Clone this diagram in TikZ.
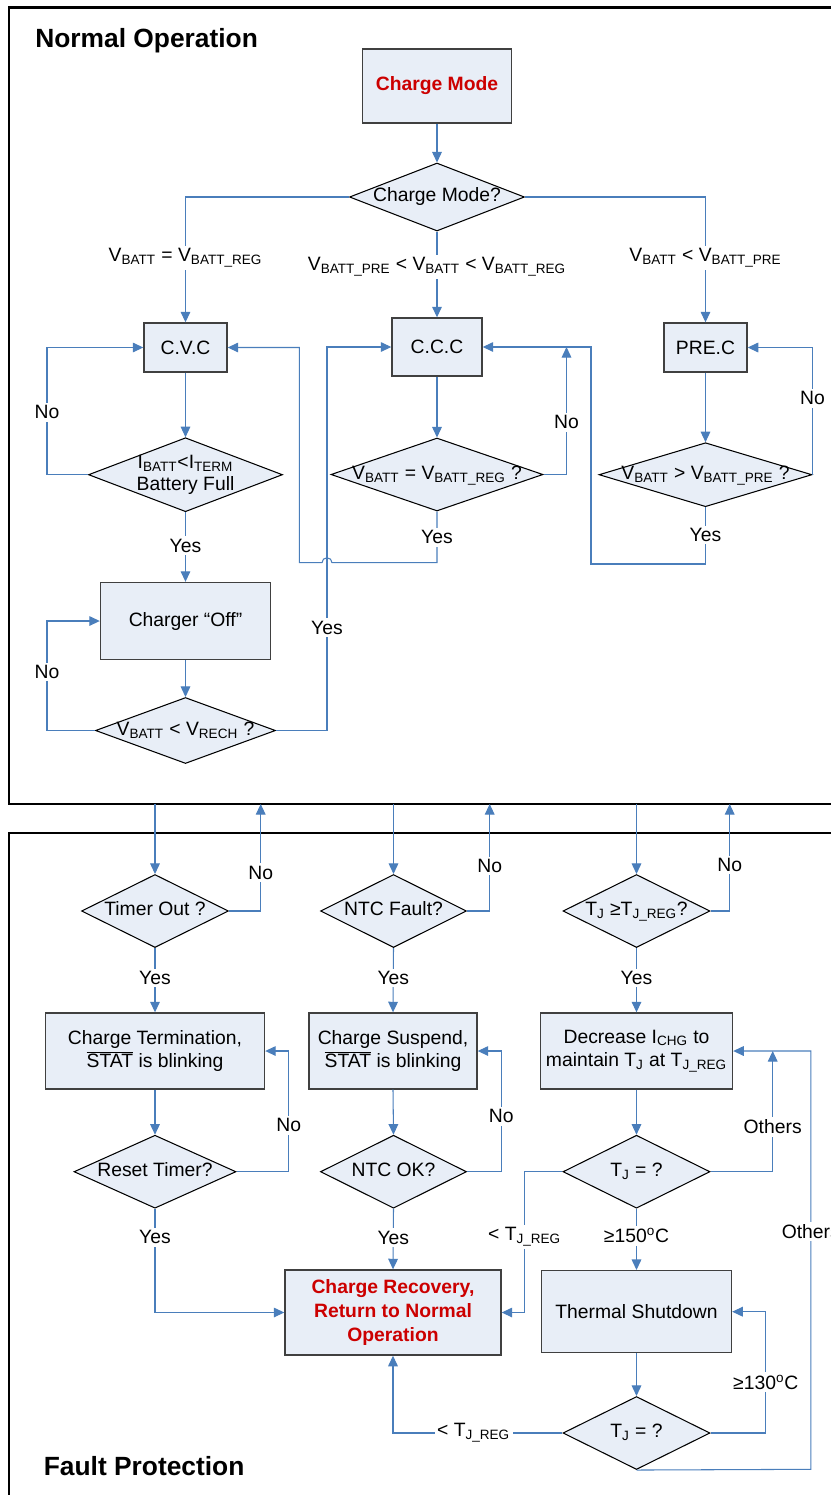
\documentclass[tikz,border=0pt]{standalone}
\usepackage{fontspec}
\setmainfont{Liberation Sans}
\usetikzlibrary{shapes.geometric,arrows.meta}
\definecolor{flowline}{RGB}{74,126,187}
\definecolor{boxfill}{RGB}{232,238,247}
\definecolor{hotred}{RGB}{204,0,0}
\newcommand{\dtext}[1]{\makebox[0pt]{\begin{tabular}{@{}c@{}}#1\end{tabular}}}
\newcommand{\sub}[1]{\textsubscript{#1}}

\begin{document}
\begin{tikzpicture}[x=0.02cm,y=-0.02cm,
    font=\fontsize{11}{13.5}\selectfont,
    wh/.style 2 args={minimum width=#1*0.02cm,minimum height=#2*0.02cm},
    box/.style={draw=black!75,line width=0.8pt,fill=boxfill,align=center,inner sep=0pt},
    dec/.style={diamond,draw=black,line width=0.6pt,fill=boxfill,inner sep=0pt},
    hot/.style={text=hotred,font=\fontsize{11}{13.5}\selectfont\bfseries},
    link/.style={flowline,line width=0.6pt},
    arr/.style={link,-{Triangle[length=6pt,width=5.5pt]}},
    lbl/.style={fill=white,inner sep=1.5pt,text=black},
    frame/.style={line width=1.6pt,black},
    title/.style={anchor=base west,inner sep=0pt,font=\fontsize{15}{18}\selectfont\bfseries}]
    \useasboundingbox (0,0) rectangle (831,1495);
    % frames
    \draw[frame] (850,7.5) -- (9,7.5) -- (9,804) -- (850,804);
    \draw[frame] (850,833) -- (9,833) -- (9,1510);
    \node[title] (ttop) at (35,47.7) {Normal Operation};
    \node[title] (tbot) at (43.5,1475) {Fault Protection};

    % normal operation
    \node[box,hot,wh={149}{74}] (mode) at (437,86) {Charge Mode};
    \node[dec,wh={175}{68}] (qmode) at (437,197) {\dtext{Charge Mode?}};
    \node[box,wh={83}{49}] (cvc) at (185.5,347.5) {C.V.C};
    \node[box,wh={90}{58}] (ccc) at (437,347) {C.C.C};
    \node[box,wh={83}{49}] (prec) at (705.5,347.5) {PRE.C};
    \node[dec,wh={194}{74}] (qfull) at (185.5,474.7)
      {\dtext{I\sub{BATT}<I\sub{TERM}\\[-1pt]Battery Full}};
    \node[dec,wh={212}{73}] (qreg) at (437,474.5)
      {\dtext{V\sub{BATT} = V\sub{BATT\_REG} ?}};
    \node[dec,wh={213}{64}] (qpre) at (705.5,474.7)
      {\dtext{V\sub{BATT} > V\sub{BATT\_PRE} ?}};
    \node[box,wh={170}{77}] (off) at (185.5,621) {Charger “Off”};
    \node[dec,wh={180}{66}] (qrech) at (185.5,730.5)
      {\dtext{V\sub{BATT} < V\sub{RECH} ?}};
    \coordinate (jc) at (566.5,347);

    \draw[arr] (mode.south) -- (qmode.north);
    \draw[arr] (qmode.west) -| node[lbl,pos=0.742] {V\sub{BATT} = V\sub{BATT\_REG}} (cvc.north);
    \draw[arr] (qmode.south) -- node[lbl,pos=0.41] {V\sub{BATT\_PRE} < V\sub{BATT} < V\sub{BATT\_REG}} (ccc.north);
    \draw[arr] (qmode.east) -| node[lbl,pos=0.742] {V\sub{BATT} < V\sub{BATT\_PRE}} (prec.north);
    \draw[arr] (cvc.south) -- (qfull.north);
    \draw[arr] (ccc.south) -- (qreg.north);
    \draw[arr] (prec.south) -- (qpre.north);
    \draw[arr] (qfull.west) -- (47,474.7) |- node[lbl,pos=0.246] {No} (cvc.west);
    \draw[arr] (qfull.south) -- node[lbl,pos=0.48] {Yes} (off.north);
    \draw[arr] (off.south) -- (qrech.north);
    \draw[arr] (qrech.west) -- (47,730.5) |- node[lbl,pos=0.267] {No} (off.west);
    \draw[arr] (qrech.east) -- (327,730.5) |- node[lbl,pos=0.134] {Yes} (ccc.west);
    \draw[arr] (qreg.south) -- node[lbl,pos=0.5] {Yes} (437,562.7) -- (332,562.7)
      arc[start angle=0,end angle=180,radius=0.1cm] -- (299.4,562.7) |- (cvc.east);
    \draw[arr] (qreg.east) -- (566.5,474.5) -- node[lbl,pos=0.41] {No} (jc);
    \draw[arr] (qpre.south) -- node[lbl,pos=0.49] {Yes} (705.5,564) -- (591,564) |- (ccc.east);
    \draw[arr] (qpre.east) |- node[lbl,pos=0.3] {No} (prec.east);

    % fault protection
    \coordinate (dn1) at (155,804);
    \coordinate (up1) at (260.7,804);
    \coordinate (dn2) at (393.5,804);
    \coordinate (up2) at (489.7,804);
    \coordinate (dn3) at (636.5,804);
    \coordinate (up3) at (729.7,804);
    \node[dec,wh={147}{73}] (qtimer) at (155,911) {\dtext{Timer Out ?}};
    \node[dec,wh={146}{73}] (qntc) at (393.5,911) {\dtext{NTC Fault?}};
    \node[dec,wh={147}{73}] (qtj) at (636.5,911) {\dtext{T\sub{J} ≥T\sub{J\_REG}?}};
    \node[box,wh={219}{76}] (term) at (155,1051)
      {Charge Termination,\\$\overline{\mbox{STAT}}$ is blinking};
    \node[box,wh={168}{76}] (susp) at (393,1051)
      {Charge Suspend,\\$\overline{\mbox{STAT}}$ is blinking};
    \node[box,wh={192}{76}] (decr) at (636.5,1051)
      {Decrease I\sub{CHG} to\\maintain T\sub{J} at T\sub{J\_REG}};
    \node[dec,wh={162}{73}] (qreset) at (155,1171.7) {\dtext{Reset Timer?}};
    \node[dec,wh={146}{73}] (qntcok) at (393.5,1171.7) {\dtext{NTC OK?}};
    \node[dec,wh={147}{73}] (qtemp) at (636.5,1171.7) {\dtext{T\sub{J} = ?}};
    \node[box,hot,wh={216}{85}] (recov) at (393,1312.5)
      {Charge Recovery,\\Return to Normal\\Operation};
    \node[box,wh={190}{82}] (shut) at (636.5,1311.7) {Thermal Shutdown};
    \node[dec,wh={147}{73}] (qtemp2) at (636.5,1433) {\dtext{T\sub{J} = ?}};
    \coordinate (jd) at (772.7,1051);

    \draw[arr] (dn1) -- (qtimer.north);
    \draw[arr] (qtimer.east) -| node[lbl,pos=0.68] {No} (up1);
    \draw[arr] (dn2) -- (qntc.north);
    \draw[arr] (qntc.east) -| node[lbl,pos=0.71] {No} (up2);
    \draw[arr] (dn3) -- (qtj.north);
    \draw[arr] (qtj.east) -| node[lbl,pos=0.715] {No} (up3);
    \draw[arr] (qtimer.south) -- node[lbl,pos=0.466] {Yes} (term.north);
    \draw[arr] (qntc.south) -- node[lbl,pos=0.466] {Yes} (susp.north);
    \draw[arr] (qtj.south) -- node[lbl,pos=0.466] {Yes} (decr.north);
    \draw[arr] (term.south) -- (qreset.north);
    \draw[arr] (susp.south) -- (qntcok.north);
    \draw[arr] (decr.south) -- (qtemp.north);
    \draw[arr] (qreset.east) -- (288.8,1171.7) |- node[lbl,pos=0.193] {No} (term.east);
    \draw[arr] (qntcok.east) -- (501.3,1171.7) |- node[lbl,pos=0.23] {No} (susp.east);
    \draw[arr] (qreset.south) |- node[lbl,pos=0.138] {Yes} (recov.west);
    \draw[arr] (qntcok.south) -- node[lbl,pos=0.48] {Yes} (recov.north);
    \draw[arr] (qtemp.west) -- (524.6,1171.7) |- node[lbl,pos=0.232] {< T\sub{J\_REG}} (recov.east);
    \draw[arr] (qtemp.east) -- (772.7,1171.7) -- node[lbl,pos=0.37] {Others} (jd);
    \draw[arr] (qtemp.south) -- node[lbl,pos=0.44] {≥150\textsuperscript{o}C} (shut.north);
    \draw[arr] (shut.south) -- (qtemp2.north);
    \draw[arr] (qtemp2.east) -- (765.8,1433) |- node[lbl,pos=0.21] {≥130\textsuperscript{o}C} (shut.east);
    \draw[arr] (qtemp2.west) -| node[lbl,pos=0.262] {< T\sub{J\_REG}} (recov.south);
    \draw[arr] (qtemp2.south) -- (810.8,1469.3) |- node[lbl,pos=0.284] {Others} (decr.east);
\end{tikzpicture}
\end{document}
